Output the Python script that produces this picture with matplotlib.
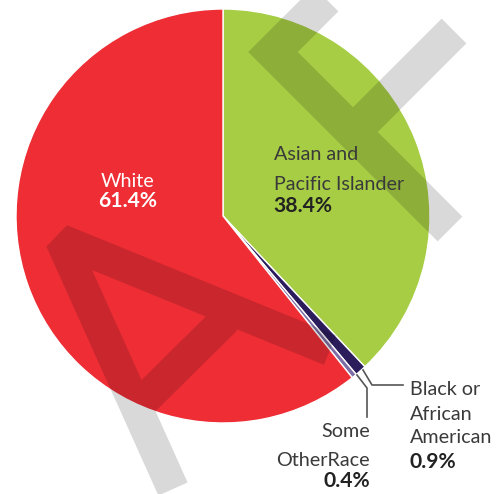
import matplotlib
matplotlib.use("Agg")
import matplotlib.pyplot as plt
from matplotlib.path import Path
from matplotlib.patches import PathPatch

categories = ["Asian and Pacific Islander", "Black or African American", "Some OtherRace", "White"]
values = [38.4, 0.9, 0.4, 61.4]
colors = ["#a6cd44", "#2b1c5c", "#7d6ea6", "#ee2d35"]

W, H = 500, 494
fig = plt.figure(figsize=(W / 100, H / 100), dpi=100)
ax = fig.add_axes([0, 0, 1, 1])

def Y(y):
    return H - y

cx, cy, r = 223, 216, 207
ax.pie(values, colors=colors, startangle=90, counterclock=False,
       center=(cx, Y(cy)), radius=r,
       wedgeprops=dict(edgecolor="white", linewidth=1.0))
ax.set_xlim(0, W)
ax.set_ylim(0, H)
ax.set_aspect("equal")
ax.axis("off")

def stroke(segs, width_px, join):
    verts, codes = [], []
    for s in segs:
        for i, (x, y) in enumerate(s):
            verts.append((x, Y(y)))
            codes.append(Path.MOVETO if i == 0 else Path.LINETO)
    p = PathPatch(Path(verts, codes), fill=False, edgecolor="black", alpha=0.15,
                  linewidth=width_px * 0.72, joinstyle=join, capstyle="butt")
    ax.add_patch(p)

# decorative watermark strokes (pixel coords)
stroke([[(330, -5), (273, 52), (450, 229)],
        [(454, 31), (362, 123)]], 35, "miter")
stroke([[(330, 350), (61, 240), (173, 489)],
        [(226, 319), (135, 409)]], 32, "bevel")

font = "Lato"
tc = "#3a3a3a"
fs, fsb = 14.2, 15.2
ax.text(128, Y(187), "White", color="white", fontsize=fs, ha="center", family=font)
ax.text(128, Y(207), "61.4%", color="white", fontsize=fsb, ha="center", family=font, fontweight="bold")

ax.text(274, Y(160), "Asian and", color=tc, fontsize=fs, ha="left", family=font)
ax.text(274, Y(190), "Pacific Islander", color=tc, fontsize=fs, ha="left", family=font)
ax.text(273, Y(212), "38.4%", color="#222222", fontsize=fsb, ha="left", family=font, fontweight="bold")

ax.text(410, Y(395), "Black or", color=tc, fontsize=fs, ha="left", family=font)
ax.text(410, Y(420), "African", color=tc, fontsize=fs, ha="left", family=font)
ax.text(410, Y(443), "American", color=tc, fontsize=fs, ha="left", family=font)
ax.text(410, Y(468), "0.9%", color="#222222", fontsize=fsb, ha="left", family=font, fontweight="bold")

ax.text(370, Y(437), "Some", color=tc, fontsize=fs, ha="right", family=font)
ax.text(370, Y(466), "OtherRace", color=tc, fontsize=fs, ha="right", family=font)
ax.text(370, Y(487), "0.4%", color="#222222", fontsize=fsb, ha="right", family=font, fontweight="bold")

ax.plot([363, 372, 403], [Y(370), Y(385), Y(385)], color="#555555", lw=1.2)
ax.plot([357, 367, 367], [Y(375), Y(388), Y(417)], color="#555555", lw=1.2)

fig.savefig("out.png", dpi=100)
